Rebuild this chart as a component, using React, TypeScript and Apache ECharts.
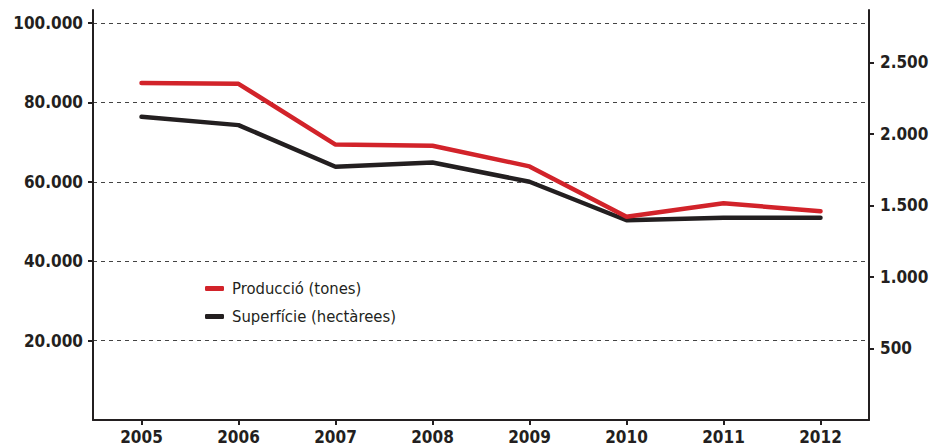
import React, { useEffect, useRef } from "react";
import * as echarts from "echarts";

const years = ["2005", "2006", "2007", "2008", "2009", "2010", "2011", "2012"];
const produccio = [84900, 84700, 69400, 69100, 63900, 51200, 54600, 52600];
const superficie = [2120, 2062, 1771, 1801, 1666, 1397, 1414, 1414];
const leftTicks = [20000, 40000, 60000, 80000, 100000];
const rightTicks = [500, 1000, 1500, 2000, 2500];
const seriesNames = ["Producció (tones)", "Superfície (hectàrees)"];

const INK = "#231f20";
const RED = "#d2232a";
const LABEL_FONT = "'DejaVu Sans Condensed', sans-serif";
const LEGEND_FONT = "'DejaVu Sans Condensed', sans-serif";

const fmt = (v: number) => String(Math.round(v)).replace(/\B(?=(\d{3})+(?!\d))/g, ".");

export default function App() {
  const ref = useRef<HTMLDivElement>(null);
  useEffect(() => {
    if (!ref.current) return;
    const chart = echarts.init(ref.current, null, { renderer: "svg" });
    const axisLabelStyle = {
      color: INK,
      fontFamily: LABEL_FONT,
      fontWeight: "bold" as const,
      fontSize: 17,
    };
    chart.setOption({
      animation: false,
      backgroundColor: "#ffffff",
      grid: { left: 93, right: 63, top: 10, bottom: 25, containLabel: false },
      legend: {
        orient: "vertical",
        left: 205,
        top: 280,
        padding: 0,
        itemGap: 11,
        itemWidth: 19,
        itemHeight: 5,
        icon: "roundRect",
        data: seriesNames,
        textStyle: {
          color: INK,
          fontFamily: LEGEND_FONT,
          fontSize: 16.5,
          lineHeight: 17,
          padding: [0, 0, 0, 3],
        },
      },
      xAxis: {
        type: "category",
        data: years,
        boundaryGap: true,
        axisLine: { show: true, lineStyle: { color: INK, width: 2 } },
        axisTick: { show: true, alignWithLabel: true, length: 5, lineStyle: { color: INK, width: 2 } },
        axisLabel: { ...axisLabelStyle, margin: 8 },
        splitLine: { show: false },
      },
      yAxis: [
        {
          type: "value",
          min: 0,
          max: 103300,
          interval: 20000,
          position: "left",
          axisLine: { show: true, lineStyle: { color: INK, width: 2 } },
          axisTick: { show: true, length: 5, lineStyle: { color: INK, width: 2 }, customValues: leftTicks },
          axisLabel: { ...axisLabelStyle, margin: 10, customValues: leftTicks, formatter: (v: number) => fmt(v) },
          splitLine: {
            show: true,
            showMinLine: true,
            showMaxLine: true,
            lineStyle: { color: "#444444", width: 1, type: [4, 4] },
          },
        },
        {
          type: "value",
          min: 0,
          max: 2867,
          interval: 500,
          position: "right",
          axisLine: { show: true, lineStyle: { color: INK, width: 2 } },
          axisTick: { show: true, length: 5, lineStyle: { color: INK, width: 2 }, customValues: rightTicks },
          axisLabel: { ...axisLabelStyle, margin: 11, customValues: rightTicks, formatter: (v: number) => fmt(v) },
          splitLine: { show: false },
        },
      ],
      series: [
        {
          name: seriesNames[0],
          type: "line",
          yAxisIndex: 0,
          data: produccio,
          showSymbol: false,
          symbol: "none",
          color: RED,
          lineStyle: { color: RED, width: 4.5, cap: "round" },
          z: 3,
        },
        {
          name: seriesNames[1],
          type: "line",
          yAxisIndex: 1,
          data: superficie,
          showSymbol: false,
          symbol: "none",
          color: INK,
          lineStyle: { color: INK, width: 4.5, cap: "round" },
          z: 2,
        },
      ],
    });
    return () => chart.dispose();
  }, []);
  return <div ref={ref} style={{ width: 932, height: 445, position: "absolute", left: 0, top: 0 }} />;
}
